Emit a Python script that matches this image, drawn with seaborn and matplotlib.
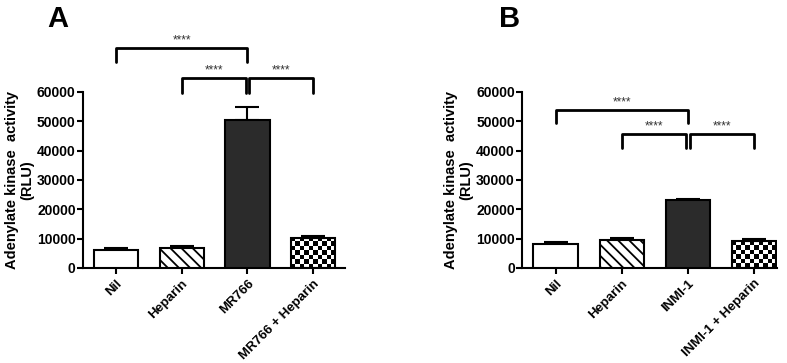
#!/usr/bin/env python3
"""Adenylate kinase activity bars for MR766 and INMI-1, with heparin."""

import numpy as np
import pandas as pd
import matplotlib
matplotlib.use("Agg")
import matplotlib.pyplot as plt
import seaborn as sns

# panel A
labels_a = ["Nil", "Heparin", "MR766", "MR766 + Heparin"]
means_a = [6200, 6800, 50500, 10300]
sem_a = [600, 500, 4400, 600]
# brackets: (left bar, right bar, bar height, tip height)
brackets_a = [(0, 2, 75000, 70000), (1, 2, 64800, 59700), (2, 3, 64800, 59700)]

# panel B
labels_b = ["Nil", "Heparin", "INMI-1", "INMI-1 + Heparin"]
means_b = [8000, 9400, 23000, 9100]
sem_b = [800, 700, 500, 600]
brackets_b = [(0, 2, 53900, 49400), (1, 2, 45700, 40900), (2, 3, 45700, 40900)]

sns.set_theme(style="ticks")
plt.rcParams["font.family"] = ["Liberation Sans", "DejaVu Sans"]
plt.rcParams["font.weight"] = "bold"
plt.rcParams["hatch.linewidth"] = 1.3
for key in ["text.color", "axes.labelcolor", "xtick.color", "ytick.color"]:
    plt.rcParams[key] = "black"

fig = plt.figure(figsize=(7.87, 3.63), dpi=100)
ax_a = fig.add_axes([0.105, 0.262, 0.333, 0.485])
ax_b = fig.add_axes([0.663, 0.262, 0.324, 0.485])


def checker(ax, bar):
    x0, y0 = bar.get_x(), bar.get_y()
    w, h = bar.get_width(), bar.get_height()
    ny = max(int(round(h / 1450)), 1)
    grid = np.indices((ny, 10)).sum(axis=0) % 2
    im = ax.imshow(grid, cmap="gray", extent=(x0, x0 + w, y0, y0 + h),
                   aspect="auto", interpolation="nearest", zorder=2)
    im.set_clip_path(bar)


def panel(ax, labels, means, sem, brackets, xmax):
    df = pd.DataFrame({"group": labels, "value": means})
    sns.barplot(data=df, x="group", y="value", color="white", width=0.67,
                edgecolor="black", linewidth=1.5, ax=ax, zorder=3)
    bars = ax.patches
    bars[1].set_hatch("\\\\\\")
    bars[2].set_facecolor("#2b2b2b")
    bars[3].set_facecolor("none")
    checker(ax, bars[3])
    ax.errorbar(range(len(means)), means, yerr=[np.zeros(len(sem)), sem],
                fmt="none", ecolor="black", elinewidth=1.5, capsize=8.5,
                capthick=1.5, zorder=2)
    for left, right, top, tip in brackets:
        xl = left + (0.03 if left == 2 else 0)
        xr = right - (0.03 if right == 2 and left != 0 else 0)
        ax.plot([xl, xl, xr, xr], [tip, top, top, tip], color="black",
                lw=2, clip_on=False, zorder=4)
        ax.text((xl + xr) / 2, top + 400, "****", ha="center", va="bottom",
                fontsize=8.5, fontweight="normal", color="#333333")
    ax.set_ylim(0, 60000)
    ax.set_xlim(-0.51, xmax)
    ax.set_yticks(range(0, 60001, 10000))
    ax.set_xlabel("")
    ax.set_ylabel("Adenylate kinase  activity\n(RLU)", fontsize=10.5,
                  fontweight="bold", labelpad=2, linespacing=1.1)
    ax.set_xticks(range(len(labels)))
    ax.set_xticklabels(labels, rotation=45, ha="right", rotation_mode="anchor",
                       fontsize=9.5, fontweight="bold")
    for t in ax.get_yticklabels():
        t.set_fontsize(10)
        t.set_fontweight("bold")
    ax.tick_params(axis="y", width=1.5, length=4, pad=1)
    ax.tick_params(axis="x", width=1.5, length=4, pad=3)
    for side in ["top", "right"]:
        ax.spines[side].set_visible(False)
    for side in ["left", "bottom"]:
        ax.spines[side].set_linewidth(1.5)
        ax.spines[side].set_color("black")


panel(ax_a, labels_a, means_a, sem_a, brackets_a, 3.48)
panel(ax_b, labels_b, means_b, sem_b, brackets_b, 3.34)

fig.text(0.074, 0.948, "A", fontsize=21, fontweight="bold", va="center", ha="center")
fig.text(0.648, 0.948, "B", fontsize=21, fontweight="bold", va="center", ha="center")

fig.savefig("out.png", dpi=100)
